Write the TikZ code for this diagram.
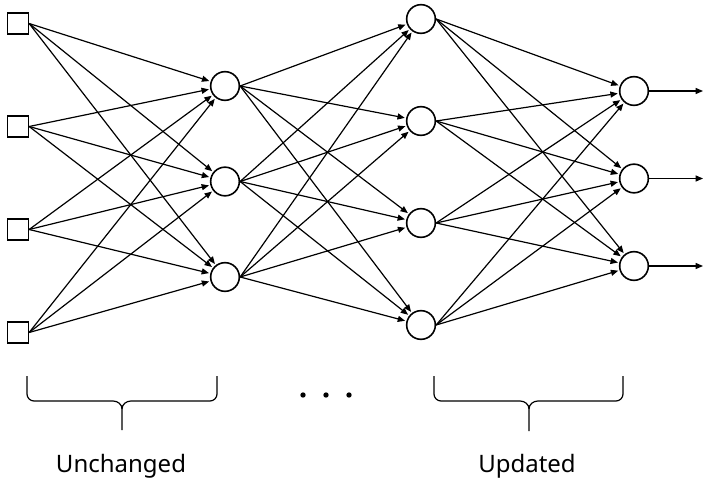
\documentclass[tikz,border=0pt]{standalone}
\usepackage{fontspec}
\setmainfont{Noto Sans}
\usetikzlibrary{arrows.meta}
\begin{document}
\begin{tikzpicture}[x=0.75pt,y=-0.75pt,
  inbox/.style={draw,line width=1.2pt,minimum size=15.5pt,inner sep=0pt},
  neuron/.style={draw,circle,line width=1.2pt,minimum size=21.5pt,inner sep=0pt},
  conn/.style={line width=0.9pt,-{Triangle[length=5.5pt,width=4.5pt]},shorten >=1pt},
  brace/.style={line width=0.9pt,line join=round},
  lbl/.style={font=\fontsize{18}{22}\selectfont,inner sep=0pt},
  dot/.style={circle,fill,inner sep=0pt,minimum size=4pt}]
\useasboundingbox (0,0) rectangle (704,485);
% inputs
\node[inbox] (s1) at (18,23.5) {};
\node[inbox] (s2) at (18,126.5) {};
\node[inbox] (s3) at (18,229.5) {};
\node[inbox] (s4) at (18,332.5) {};
% hidden layer 1
\node[neuron] (h1) at (225,86) {};
\node[neuron] (h2) at (225,181.5) {};
\node[neuron] (h3) at (225,277) {};
% hidden layer 2
\node[neuron] (g1) at (421,19) {};
\node[neuron] (g2) at (421,121) {};
\node[neuron] (g3) at (421,223) {};
\node[neuron] (g4) at (421,325) {};
% outputs
\node[neuron] (o1) at (634,91) {};
\node[neuron] (o2) at (634,178.5) {};
\node[neuron] (o3) at (634,266) {};
\coordinate (e1) at (703,91);
\coordinate (e2) at (703,178.5);
\coordinate (e3) at (703,266);
% connections
\foreach \a in {s1,s2,s3,s4}{\foreach \b in {h1,h2,h3}{\draw[conn] (\a.east) -- (\b);}}
\foreach \a in {h1,h2,h3}{\foreach \b in {g1,g2,g3,g4}{\draw[conn] (\a.east) -- (\b);}}
\foreach \a in {g1,g2,g3,g4}{\foreach \b in {o1,o2,o3}{\draw[conn] (\a.east) -- (\b);}}
\draw[conn,shorten >=0pt] (o1.east) -- (e1);
\draw[conn,shorten >=0pt] (o2.east) -- (e2);
\draw[conn,shorten >=0pt] (o3.east) -- (e3);
% braces
\draw[brace] (27,376) -- (27,394) to[out=-90,in=180] (34,401) -- (113,401) to[out=0,in=90] (122,409) -- (122,430);
\draw[brace] (217,376) -- (217,394) to[out=-90,in=0] (210,401) -- (131,401) to[out=180,in=90] (122,409);
\draw[brace] (434,376) -- (434,394) to[out=-90,in=180] (441,401) -- (520,401) to[out=0,in=90] (529,409) -- (529,431);
\draw[brace] (623,376) -- (623,394) to[out=-90,in=0] (616,401) -- (538,401) to[out=180,in=90] (529,409);
% dots
\node[dot] (d1) at (303,395) {};
\node[dot] (d2) at (326,395) {};
\node[dot] (d3) at (349,395) {};
% labels
\node[lbl] (t1) at (121,466) {Unchanged};
\node[lbl] (t2) at (527,466) {Updated};
\end{tikzpicture}
\end{document}
